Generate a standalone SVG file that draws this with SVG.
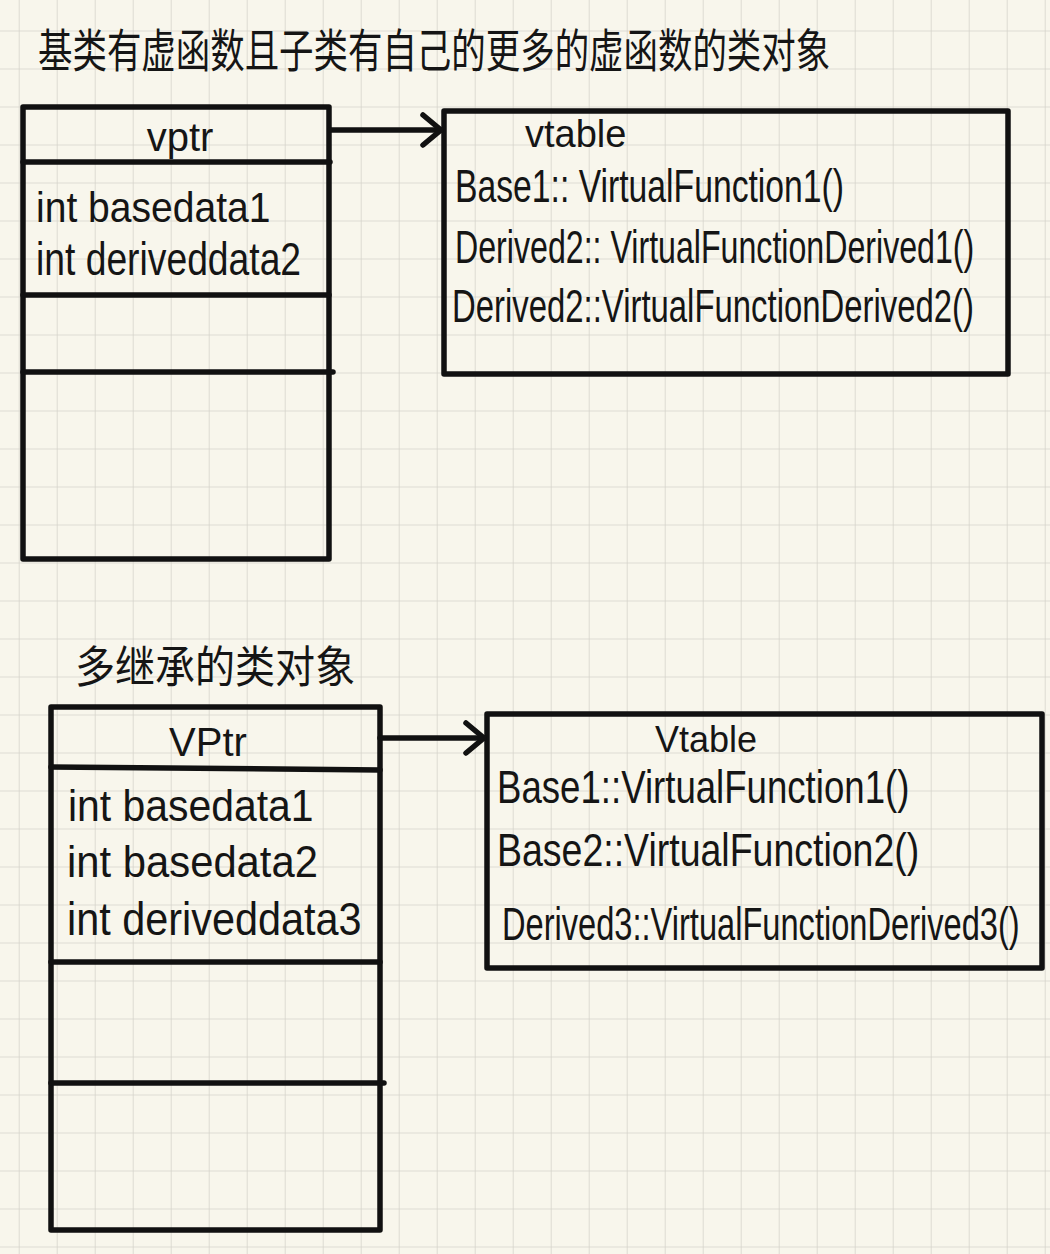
<svg xmlns="http://www.w3.org/2000/svg" width="1050" height="1254" viewBox="0 0 1050 1254">
<defs>
<pattern id="grid" patternUnits="userSpaceOnUse" x="18.7" y="30.5" width="38" height="38">
<path d="M0,0 H38 M0,0 V38" fill="none" stroke="#d6d4cc" stroke-width="1.6"/>
</pattern>
<marker id="chev" markerUnits="userSpaceOnUse" viewBox="-24 -20 30 40" refX="0" refY="0" markerWidth="30" markerHeight="40" orient="auto">
<path d="M-18,-15 L0,0 L-18,15" fill="none" stroke="#111" stroke-width="5.5" stroke-linecap="round" stroke-linejoin="round"/>
</marker>
</defs>
<style>
.box{fill:none;stroke:#111;stroke-width:5.5;stroke-linecap:round;stroke-linejoin:round}
.hand{font-family:"Liberation Sans","DejaVu Sans",sans-serif;fill:#151515}
.cjk{font-family:"Noto Sans CJK SC",sans-serif;fill:#151515}
.conn{fill:none;stroke:#111;stroke-width:5.5;stroke-linecap:round}
</style>
<rect width="1050" height="1254" fill="#f8f6ec"/>
<rect width="1050" height="1254" fill="url(#grid)"/>

<g id="title1">
<text class="cjk" transform="translate(38,67) scale(0.749,1)" font-size="46">基类有虚函数且子类有自己的更多的虚函数的类对象</text>
</g>
<g id="title2">
<text class="cjk" transform="translate(75,683) scale(0.91,1)" font-size="44">多继承的类对象</text>
</g>

<g id="object1">
<rect class="box" x="23" y="107" width="306" height="452"/>
<line class="box" x1="23" y1="162" x2="330" y2="162"/>
<line class="box" x1="23" y1="295" x2="329" y2="295"/>
<line class="box" x1="23" y1="372" x2="333" y2="372"/>
<text class="hand" x="180" y="151" font-size="40" text-anchor="middle">vptr</text>
<text class="hand" transform="translate(36,222) scale(0.93,1)" font-size="42">int basedata1</text>
<text class="hand" transform="translate(36,275) scale(0.81,1)" font-size="46">int deriveddata2</text>
</g>

<g id="vtable1">
<rect class="box" x="444" y="111" width="564" height="263"/>
<text class="hand" x="525" y="147" font-size="38">vtable</text>
<text class="hand" transform="translate(455,202) scale(0.733,1)" font-size="46">Base1:: VirtualFunction1()</text>
<text class="hand" transform="translate(455,263) scale(0.699,1)" font-size="46">Derived2:: VirtualFunctionDerived1()</text>
<text class="hand" transform="translate(452,322) scale(0.715,1)" font-size="46">Derived2::VirtualFunctionDerived2()</text>
</g>

<g id="object2">
<rect class="box" x="51" y="707" width="329" height="523"/>
<line class="box" x1="51" y1="767" x2="380" y2="770"/>
<line class="box" x1="51" y1="962" x2="380" y2="962"/>
<line class="box" x1="51" y1="1083" x2="384" y2="1083"/>
<text class="hand" x="208" y="756" font-size="40" text-anchor="middle">VPtr</text>
<text class="hand" transform="translate(68,821) scale(0.93,1)" font-size="44">int basedata1</text>
<text class="hand" transform="translate(67,877) scale(0.95,1)" font-size="44">int basedata2</text>
<text class="hand" transform="translate(67,935) scale(0.9,1)" font-size="46">int deriveddata3</text>
</g>

<g id="vtable2">
<rect class="box" x="487" y="714" width="555" height="254"/>
<text class="hand" x="655" y="752" font-size="36">Vtable</text>
<text class="hand" transform="translate(497,803) scale(0.796,1)" font-size="46">Base1::VirtualFunction1()</text>
<text class="hand" transform="translate(497,866) scale(0.815,1)" font-size="46">Base2::VirtualFunction2()</text>
<text class="hand" transform="translate(502,940) scale(0.709,1)" font-size="46">Derived3::VirtualFunctionDerived3()</text>
</g>

<g id="connectors">
<line class="conn" x1="330" y1="130" x2="441" y2="130" marker-end="url(#chev)"/>
<line class="conn" x1="380" y1="738" x2="484" y2="738" marker-end="url(#chev)"/>
</g>
</svg>
